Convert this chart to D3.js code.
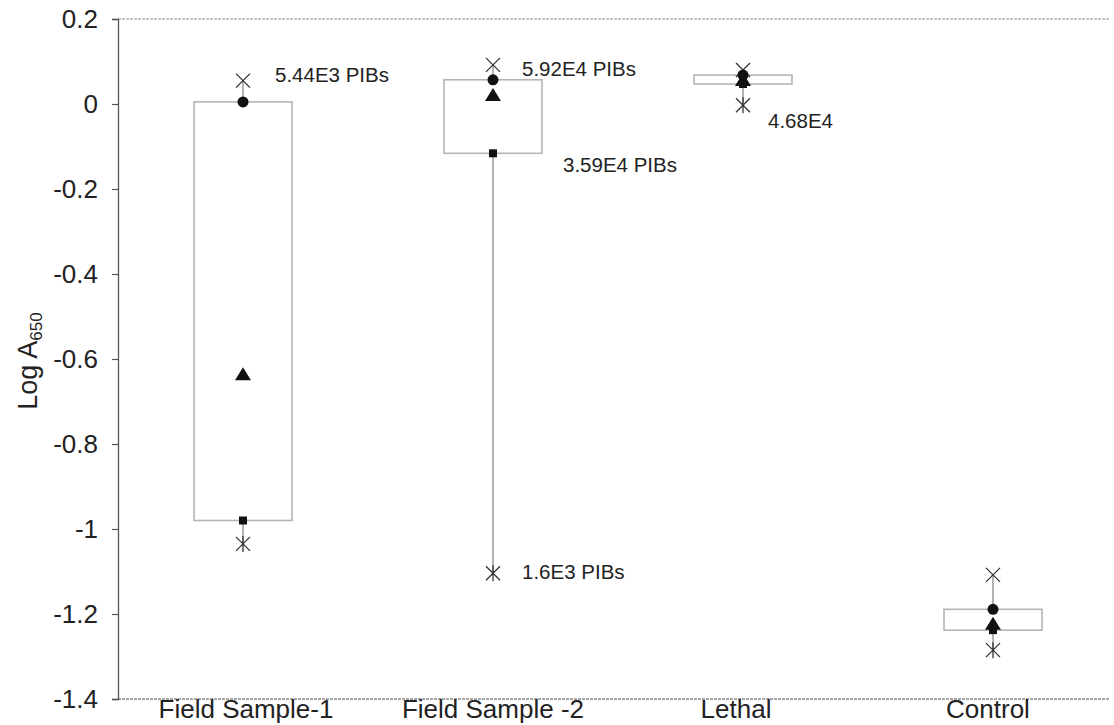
<!DOCTYPE html>
<html>
<head>
<meta charset="utf-8">
<script src="https://cdn.jsdelivr.net/npm/d3@7"></script>
<style>
  html, body { margin: 0; padding: 0; background: #fff; }
  svg { display: block; }
  text { font-family: "Liberation Sans", Arial, sans-serif; fill: #222; }
</style>
</head>
<body>
<svg id="chart" width="1114" height="725"></svg>
<script>
// Sample groups
const categories = ["Field Sample-1", "Field Sample -2", "Lethal", "Control"];
// Log A650 readings per group
const highs     = [0.055, 0.092, 0.080, -1.108];   // × maximum
const circles   = [0.005, 0.057, 0.068, -1.189];   // ● box top
const triangles = [-0.638, 0.019, 0.054, -1.225];  // ▲
const squares   = [-0.980, -0.116, 0.047, -1.238]; // ■ box bottom
const lows      = [-1.035, -1.104, -0.003, -1.285];// ✳ minimum
const yTicks    = [0.2, 0, -0.2, -0.4, -0.6, -0.8, -1, -1.2, -1.4];

// Point annotations: group index, which series, text
const notes = [
  { i: 0, series: "high",   text: "5.44E3 PIBs", dx: 32, dy: -4 },
  { i: 1, series: "high",   text: "5.92E4 PIBs", dx: 29, dy: 6 },
  { i: 1, series: "square", text: "3.59E4 PIBs", dx: 70, dy: 13 },
  { i: 1, series: "low",    text: "1.6E3 PIBs",  dx: 29, dy: 0 },
  { i: 2, series: "low",    text: "4.68E4",      dx: 25, dy: 17 }
];
const seriesMap = { high: highs, circle: circles, triangle: triangles, square: squares, low: lows };

const svg = d3.select("#chart");
const plotLeft = 118, plotRight = 1118, plotTop = 19, plotBottom = 699;

const x = d3.scaleBand().domain(categories).range([plotLeft, plotRight]).padding(0);
const y = d3.scaleLinear().domain([-1.4, 0.2]).range([plotBottom, plotTop]);
const cx = d => x(d) + x.bandwidth() / 2;
const boxW = 98;

// frame lines: top and bottom edges of the plot
svg.append("line").attr("x1", plotLeft).attr("x2", 1110).attr("y1", y(0.2)).attr("y2", y(0.2))
  .attr("stroke", "#8a8a8a").attr("stroke-width", 1.2).attr("stroke-dasharray", "3,1");
svg.append("line").attr("x1", plotLeft).attr("x2", 1110).attr("y1", y(-1.4)).attr("y2", y(-1.4))
  .attr("stroke", "#8a8a8a").attr("stroke-width", 1.4).attr("stroke-dasharray", "3,1");

// y axis (plain hyphen for negatives)
const yAxis = d3.axisLeft(y).tickValues(yTicks).tickSize(6).tickPadding(14)
  .tickFormat(d => String(+d.toFixed(1)));
const gy = svg.append("g").attr("transform", `translate(${plotLeft},0)`).call(yAxis);
gy.select(".domain").attr("stroke", "#555").attr("stroke-width", 1.3);
gy.selectAll(".tick line").attr("stroke", "#555").attr("stroke-width", 1.2);
gy.selectAll(".tick text").attr("font-size", 26).attr("fill", "#222")
  .style("font-family", '"Liberation Sans", Arial, sans-serif');

// y axis title with subscript
const yt = svg.append("text")
  .attr("transform", `translate(37,${(plotTop + plotBottom) / 2 + 2}) rotate(-90)`)
  .attr("text-anchor", "middle").attr("font-size", 27);
yt.append("tspan").text("Log A");
yt.append("tspan").attr("font-size", 17).attr("dy", 5).text("650");

// x category labels
const labelShift = [3, 0, -7, -5];
svg.selectAll(".cat").data(categories).enter().append("text")
  .attr("class", "cat")
  .attr("x", (d, i) => cx(d) + labelShift[i])
  .attr("y", 718)
  .attr("text-anchor", "middle").attr("font-size", 26)
  .text(d => d);

const groups = svg.selectAll(".grp").data(categories).enter().append("g").attr("class", "grp");

// whiskers from maximum to minimum
groups.append("line")
  .attr("x1", d => cx(d)).attr("x2", d => cx(d))
  .attr("y1", (d, i) => y(highs[i])).attr("y2", (d, i) => y(lows[i]))
  .attr("stroke", "#9a9a9a").attr("stroke-width", 1.5);

// boxes between circle and square values
groups.append("rect")
  .attr("x", d => cx(d) - boxW / 2).attr("width", boxW)
  .attr("y", (d, i) => y(Math.max(circles[i], squares[i])))
  .attr("height", (d, i) => Math.abs(y(circles[i]) - y(squares[i])))
  .attr("fill", "#fff").attr("stroke", "#b5b5b5").attr("stroke-width", 1.6);

// maximum: ×
groups.append("path")
  .attr("transform", (d, i) => `translate(${cx(d)},${y(highs[i])})`)
  .attr("d", "M-7,-7L7,7M-7,7L7,-7")
  .attr("stroke", "#333").attr("stroke-width", 1.3).attr("fill", "none");

// minimum: asterisk
groups.append("path")
  .attr("transform", (d, i) => `translate(${cx(d)},${y(lows[i])})`)
  .attr("d", "M-7,-7L7,7M-7,7L7,-7M0,-8L0,8")
  .attr("stroke", "#333").attr("stroke-width", 1.3).attr("fill", "none");

// squares
groups.append("rect")
  .attr("x", d => cx(d) - 4).attr("width", 8)
  .attr("y", (d, i) => y(squares[i]) - 4).attr("height", 8)
  .attr("fill", "#111");

// triangles
groups.append("path")
  .attr("transform", (d, i) => `translate(${cx(d)},${y(triangles[i])})`)
  .attr("d", "M0,-8L8,5L-8,5Z")
  .attr("fill", "#111");

// circles
groups.append("circle")
  .attr("cx", d => cx(d)).attr("cy", (d, i) => y(circles[i]))
  .attr("r", 5.5).attr("fill", "#111");

// annotations
svg.selectAll(".note").data(notes).enter().append("text")
  .attr("class", "note")
  .attr("x", d => cx(categories[d.i]) + d.dx)
  .attr("y", d => y(seriesMap[d.series][d.i]) + d.dy)
  .attr("dominant-baseline", "middle")
  .attr("font-size", 20.5)
  .text(d => d.text);
</script>
</body>
</html>
